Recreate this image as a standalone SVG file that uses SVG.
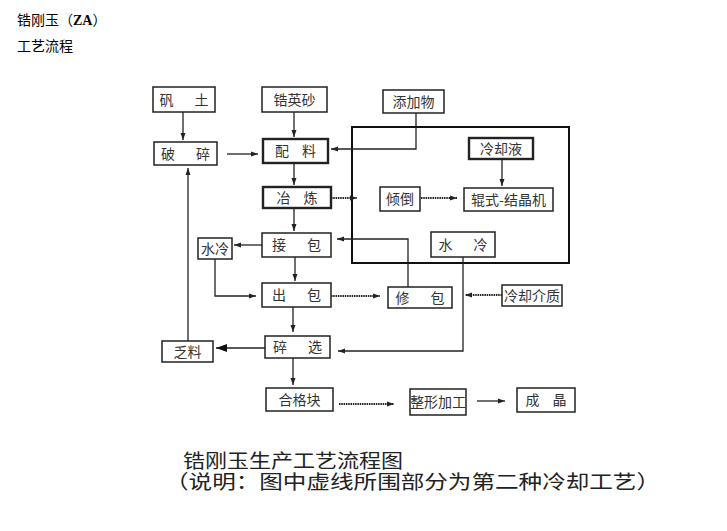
<svg xmlns="http://www.w3.org/2000/svg" width="727" height="531" viewBox="0 0 727 531">
<style>
  .box{fill:#fff;stroke:#222;stroke-width:1.5}
  .thick{stroke-width:2.4}
  .lbl{font-family:"Noto Sans CJK SC","Liberation Serif",sans-serif;font-size:14px;fill:#333;text-anchor:middle}
  .sp{word-spacing:10px}
  .wide{word-spacing:18px}
  .ln{fill:none;stroke:#222;stroke-width:1.3}
  .dot{stroke-dasharray:1.5 0.8;stroke-width:1.8}
  .hd{font-family:"Noto Sans CJK SC","Liberation Sans",sans-serif;font-size:14px;fill:#000}
  .cap{font-family:"Liberation Serif","Noto Sans CJK SC",serif;fill:#222}
</style>
<defs>
  <marker id="ah" markerUnits="userSpaceOnUse" markerWidth="8" markerHeight="6" refX="7" refY="3" orient="auto">
    <path d="M0,0.5 L7,3 L0,5.5 Z" fill="#222"/>
  </marker>
  <marker id="ahb" markerUnits="userSpaceOnUse" markerWidth="12" markerHeight="8" refX="11" refY="4" orient="auto">
    <path d="M0,0 L11,4 L0,8 Z" fill="#111"/>
  </marker>
</defs>
<rect width="727" height="531" fill="#fff"/>

<text class="hd" x="17" y="25">锆刚玉（<tspan font-weight="bold" font-family="Liberation Serif">ZA</tspan>）</text>
<text class="hd" x="17" y="51">工艺流程</text>

<g id="bigbox"><rect x="352" y="127" width="217" height="136" fill="none" stroke="#111" stroke-width="2"/></g>

<g id="n_fantu"><rect class="box" x="153" y="87" width="62" height="25"/><text class="lbl wide" x="184" y="105">矾 土</text></g>
<g id="n_gaoying"><rect class="box" x="262" y="87" width="65" height="25"/><text class="lbl" x="294.5" y="105">锆英砂</text></g>
<g id="n_tianjia"><rect class="box" x="383" y="90" width="61" height="23"/><text class="lbl" x="413.5" y="107">添加物</text></g>
<g id="n_posui"><rect class="box" x="154" y="142" width="63" height="23"/><text class="lbl wide" x="185.5" y="159">破 碎</text></g>
<g id="n_peiliao"><rect class="box thick" x="263" y="139" width="65" height="24"/><text class="lbl sp" x="295.5" y="156">配 料</text></g>
<g id="n_lengque"><rect class="box thick" x="469" y="138" width="64" height="21"/><text class="lbl" x="501" y="154">冷却液</text></g>
<g id="n_yelian"><rect class="box thick" x="263" y="187" width="68" height="21"/><text class="lbl sp" x="297" y="203">冶 炼</text></g>
<g id="n_qingdao"><rect class="box" x="380" y="187" width="40" height="24"/><text class="lbl" x="400" y="204">倾倒</text></g>
<g id="n_gunshi"><rect class="box" x="464" y="188" width="89" height="23"/><text class="lbl" x="508.5" y="205">辊式-结晶机</text></g>
<g id="n_jiebao"><rect class="box" x="262" y="233" width="69" height="24"/><text class="lbl wide" x="296.5" y="250">接 包</text></g>
<g id="n_shuileng1"><rect class="box" x="198" y="238" width="34" height="21"/><text class="lbl" x="215" y="254" fill="#000">水冷</text></g>
<g id="n_shuileng2"><rect class="box" x="431" y="232" width="64" height="25"/><text class="lbl wide" x="463" y="250">水 冷</text></g>
<g id="n_chubao"><rect class="box" x="262" y="283" width="69" height="24"/><text class="lbl wide" x="296.5" y="300">出 包</text></g>
<g id="n_xiubao"><rect class="box" x="388" y="287" width="64" height="21"/><text class="lbl wide" x="420" y="303">修 包</text></g>
<g id="n_lengquejiezhi"><rect class="box" x="502" y="285" width="60" height="21"/><text class="lbl" x="532" y="301">冷却介质</text></g>
<g id="n_faliao"><rect class="box" x="162" y="341" width="51" height="21"/><text class="lbl" x="187.5" y="357">乏料</text></g>
<g id="n_suixuan"><rect class="box" x="265" y="336" width="65" height="22"/><text class="lbl wide" x="297.5" y="352">碎 选</text></g>
<g id="n_hegekuai"><rect class="box" x="266" y="388" width="67" height="23"/><text class="lbl" x="299.5" y="405">合格块</text></g>
<g id="n_zhengxing"><rect class="box" x="410" y="389" width="56" height="26"/><text class="lbl" x="438" y="407" font-size="13">整形加工</text></g>
<g id="n_chengjing"><rect class="box" x="517" y="388" width="58" height="24"/><text class="lbl sp" x="546" y="405">成 晶</text></g>

<g id="connectors">
  <path class="ln" d="M183 112 V140" marker-end="url(#ah)"/>
  <path class="ln" d="M294 112 V137" marker-end="url(#ah)"/>
  <path class="ln" d="M227 154 H258" marker-end="url(#ah)"/>
  <path class="ln" d="M416 113 V149 H331" stroke-width="1.8" marker-end="url(#ah)"/>
  <path class="ln" d="M294 163 V185" marker-end="url(#ah)"/>
  <path class="ln dot" d="M331 198 H357" marker-end="url(#ah)"/>
  <path class="ln" d="M502 159 V186" marker-end="url(#ah)"/>
  <path class="ln dot" d="M421 198 H457" marker-end="url(#ah)"/>
  <path class="ln" d="M294 208 V231" marker-end="url(#ah)"/>
  <path class="ln" d="M262 245 H234" marker-end="url(#ah)"/>
  <path class="ln" d="M215 259 V296 H256" stroke-width="1.6" marker-end="url(#ah)"/>
  <path class="ln" d="M295 257 V281" marker-end="url(#ah)"/>
  <path class="ln" d="M408 287 V239 H337" marker-end="url(#ah)"/>
  <path class="ln dot" d="M331 296 H380" marker-end="url(#ah)"/>
  <path class="ln" d="M463 257 V351 H338" marker-end="url(#ah)"/>
  <path class="ln dot" d="M502 295 H465" marker-end="url(#ah)"/>
  <path class="ln" d="M293 307 V332" marker-end="url(#ah)"/>
  <path class="ln" d="M265 348 H216" stroke-width="1.8" marker-end="url(#ahb)"/>
  <path class="ln" d="M188 341 V168" marker-end="url(#ah)"/>
  <path class="ln" d="M293 358 V385" marker-end="url(#ah)"/>
  <path class="ln dot" d="M339 404 H394" stroke-width="2.2" marker-end="url(#ah)"/>
  <path class="ln" d="M477 401 H505" marker-end="url(#ah)"/>
</g>

<text class="cap" x="183" y="467.5" font-size="19" textLength="220" lengthAdjust="spacingAndGlyphs">锆刚玉生产工艺流程图</text>
<text class="cap" x="165" y="488.5" font-size="19.5" textLength="495" lengthAdjust="spacingAndGlyphs">（说明：图中虚线所围部分为第二种冷却工艺）</text>
</svg>
